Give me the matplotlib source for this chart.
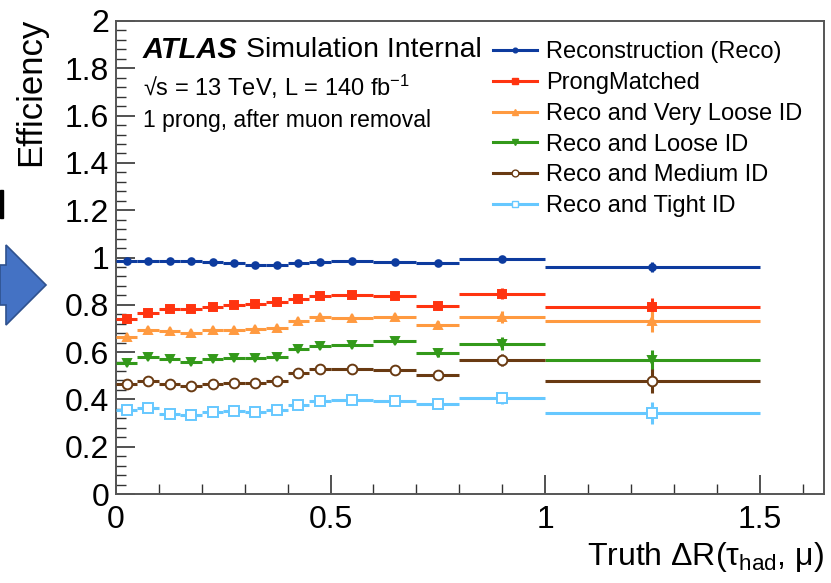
import numpy as np
import matplotlib
matplotlib.use("Agg")
import matplotlib.pyplot as plt
from matplotlib.lines import Line2D
from matplotlib.patches import Polygon, Rectangle

plt.rcParams['font.family'] = ['Liberation Sans', 'DejaVu Sans']
plt.rcParams['mathtext.default'] = 'regular'

# bin edges in truth dR(tau_had, mu)
edges = np.array([0.0, 0.05, 0.1, 0.15, 0.2, 0.25, 0.3, 0.35, 0.4,
                  0.45, 0.5, 0.6, 0.7, 0.8, 1.0, 1.5])

eff_reco = [0.985, 0.985, 0.987, 0.987, 0.983, 0.976, 0.968, 0.969,
            0.976, 0.983, 0.987, 0.983, 0.976, 0.992, 0.959]
eff_prong = [0.741, 0.767, 0.782, 0.781, 0.792, 0.800, 0.805, 0.810,
             0.824, 0.837, 0.840, 0.837, 0.795, 0.847, 0.790]
eff_vloose = [0.664, 0.695, 0.689, 0.682, 0.692, 0.692, 0.699, 0.703,
              0.731, 0.748, 0.745, 0.750, 0.715, 0.750, 0.731]
eff_loose = [0.556, 0.578, 0.570, 0.560, 0.570, 0.575, 0.573, 0.578,
             0.612, 0.626, 0.630, 0.646, 0.596, 0.636, 0.565]
eff_medium = [0.467, 0.478, 0.464, 0.457, 0.464, 0.471, 0.471, 0.478,
              0.513, 0.530, 0.527, 0.525, 0.504, 0.567, 0.478]
eff_tight = [0.357, 0.364, 0.338, 0.332, 0.345, 0.349, 0.346, 0.357,
             0.377, 0.392, 0.397, 0.395, 0.381, 0.405, 0.343]

err_reco = [0.003, 0.003, 0.003, 0.003, 0.003, 0.003, 0.003, 0.003,
            0.004, 0.004, 0.004, 0.004, 0.008, 0.010, 0.020]
err_prong = [0.005, 0.005, 0.005, 0.005, 0.005, 0.005, 0.005, 0.005,
             0.006, 0.006, 0.006, 0.006, 0.015, 0.022, 0.040]
err_vloose = [0.005, 0.005, 0.005, 0.005, 0.005, 0.005, 0.005, 0.005,
              0.006, 0.006, 0.006, 0.006, 0.016, 0.025, 0.048]
err_loose = [0.005, 0.005, 0.005, 0.005, 0.005, 0.005, 0.005, 0.005,
             0.006, 0.006, 0.006, 0.006, 0.016, 0.027, 0.045]
err_medium = [0.005, 0.005, 0.005, 0.005, 0.005, 0.005, 0.005, 0.005,
              0.006, 0.006, 0.006, 0.006, 0.016, 0.027, 0.050]
err_tight = [0.005, 0.005, 0.005, 0.005, 0.005, 0.005, 0.005, 0.005,
             0.006, 0.006, 0.006, 0.006, 0.014, 0.025, 0.048]

labels = ["Reconstruction (Reco)", "ProngMatched", "Reco and Very Loose ID",
          "Reco and Loose ID", "Reco and Medium ID", "Reco and Tight ID"]

SERIES = [
    # (values, errors, color, marker, size, filled)
    (eff_reco,   err_reco,   "#0d3b9e", "o", 4.8, True),
    (eff_prong,  err_prong,  "#ff3410", "s", 6.3, True),
    (eff_vloose, err_vloose, "#ff9a40", "^", 5.6, True),
    (eff_loose,  err_loose,  "#33991a", "v", 5.6, True),
    (eff_medium, err_medium, "#693a12", "o", 7.0, False),
    (eff_tight,  err_tight,  "#66c8ff", "s", 7.0, False),
]

W, H = 831, 583
fig = plt.figure(figsize=(W / 100, H / 100), dpi=100)
ax = fig.add_axes([116 / W, 1 - 494 / H, (824 - 116) / W, (494 - 21) / H])

centers = 0.5 * (edges[:-1] + edges[1:])
halfw = 0.5 * (edges[1:] - edges[:-1])

handles = []
for (vals, errs, col, mk, ms, filled), lab in zip(SERIES, labels):
    face = col if filled else "white"
    ax.errorbar(centers, vals, xerr=halfw, yerr=errs, fmt=mk, color=col,
                ms=ms, mfc=face, mec=col, mew=1.4, elinewidth=2.2,
                capsize=0, zorder=3)
    handles.append(Line2D([], [], color=col, lw=2.2, marker=mk,
                          ms=ms * 0.7, mfc=face, mec=col, mew=1.0))

ax.set_xlim(0, 1.65)
ax.set_ylim(0, 2)
ax.set_xticks([0, 0.5, 1, 1.5])
ax.set_xticklabels(["0", "0.5", "1", "1.5"])
ax.set_xticks(np.arange(0.1, 1.65, 0.1), minor=True)
ax.set_yticks(np.arange(0, 2.01, 0.2))
ax.set_yticklabels(["0", "0.2", "0.4", "0.6", "0.8", "1",
                    "1.2", "1.4", "1.6", "1.8", "2"])
ax.set_yticks(np.arange(0, 2.001, 0.04), minor=True)
ax.tick_params(which="both", direction="in", top=False, right=False,
               labelsize=23, color="#333333")
ax.tick_params(which="major", length=14, width=1.2)
ax.tick_params(axis="y", which="major", pad=5)
ax.tick_params(axis="x", which="major", pad=8)
ax.tick_params(which="minor", length=7, width=1.0)
for sp in ax.spines.values():
    sp.set_color("#555555")
    sp.set_linewidth(1.4)

ax.text(1.0, -0.150, r"Truth $\Delta$R($\tau_{had}$, $\mu$)", transform=ax.transAxes,
        ha="right", va="baseline", fontsize=23)
ax.text(-0.121, 1.006, "Efficiency", transform=ax.transAxes, rotation=90,
        ha="center", va="top", fontsize=25)

atl = ax.text(0.038, 0.939, "ATLAS", transform=ax.transAxes, ha="left",
              va="center", fontsize=21, fontweight="bold", fontstyle="italic")
ax.annotate("Simulation Internal", xy=(1, 0.5), xycoords=atl,
            xytext=(6, 0), textcoords="offset points", ha="left",
            va="center", fontsize=20.5)
ax.text(0.038, 0.860, "√s = 13 TeV, L = 140 fb$^{-1}$", transform=ax.transAxes,
        ha="left", va="center", fontsize=17)
ax.text(0.038, 0.789, "1 prong, after muon removal", transform=ax.transAxes,
        ha="left", va="center", fontsize=16.5)

ax.legend(handles, labels, loc="upper left", bbox_to_anchor=(0.532, 0.957),
          frameon=False, fontsize=17, handlelength=1.86, handletextpad=0.42,
          labelspacing=0.37, borderpad=0, borderaxespad=0)

# slide decoration left of the plot: blue arrow and a small bar
arrow = [(0, 265), (6, 265), (6, 245), (46, 285), (6, 325), (6, 305), (0, 305)]
fig.patches.append(Polygon([(x / W, 1 - y / H) for x, y in arrow], closed=True,
                           transform=fig.transFigure, facecolor="#4472c4",
                           edgecolor="#2f528f", lw=1.2))
fig.patches.append(Rectangle((0, 1 - 218 / H), 2.5 / W, 28 / H,
                             transform=fig.transFigure, color="black"))

fig.savefig("out.png", dpi=100)
